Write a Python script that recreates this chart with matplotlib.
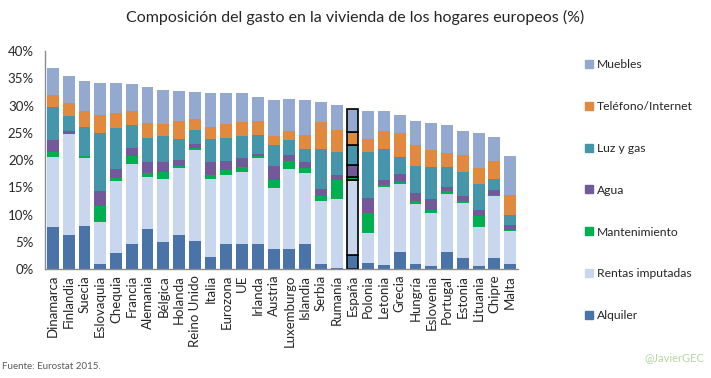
import numpy as np
import matplotlib
matplotlib.use("Agg")
from matplotlib import pyplot as plt
from matplotlib.patches import Patch

plt.rcParams['font.family'] = ['Lato', 'DejaVu Sans']

paises = ["Dinamarca", "Finlandia", "Suecia", "Eslovaquia", "Chequia", "Francia",
          "Alemania", "Bélgica", "Holanda", "Reino Unido", "Italia", "Eurozona", "UE",
          "Irlanda", "Austria", "Luxemburgo", "Islandia", "Serbia", "Rumanía", "España",
          "Polonia", "Letonia", "Grecia", "Hungría", "Eslovenia", "Portugal", "Estonia",
          "Lituania", "Chipre", "Malta"]

alquiler = [7.8, 6.3, 8.0, 1.0, 2.9, 4.7, 7.4, 5.0, 6.2, 5.2, 2.3, 4.7, 4.7, 4.7, 3.7,
            3.7, 4.7, 1.0, 0.2, 2.6, 1.2, 0.8, 3.2, 1.0, 0.6, 3.2, 2.1, 0.6, 2.1, 1.0]
rentas = [12.7, 18.5, 12.4, 7.7, 13.3, 14.6, 9.5, 11.5, 12.3, 16.6, 14.2, 12.6, 13.1, 15.7, 11.2,
          14.7, 12.9, 11.5, 12.7, 13.7, 5.4, 14.3, 12.4, 11.0, 9.7, 10.6, 10.0, 7.1, 11.3, 6.0]
mantenimiento = [1.0, 0.0, 0.4, 2.9, 0.6, 1.5, 0.8, 1.4, 0.5, 0.4, 0.8, 0.9, 0.9, 0.4, 1.5,
                 1.5, 0.9, 0.9, 3.5, 0.7, 3.8, 0.4, 0.4, 0.5, 0.6, 0.5, 0.4, 2.1, 0.3, 0.2]
agua = [2.2, 0.6, 0.0, 2.8, 1.6, 1.4, 1.9, 1.7, 1.0, 0.8, 2.3, 1.7, 1.7, 0.4, 2.5,
        1.0, 1.1, 1.3, 0.9, 2.2, 2.7, 0.8, 1.5, 1.5, 2.0, 0.8, 0.9, 1.1, 0.9, 0.9]
luz_gas = [6.0, 2.7, 5.2, 10.5, 7.5, 4.2, 4.5, 4.8, 3.8, 2.5, 4.2, 4.1, 4.0, 3.4, 3.8,
           2.8, 2.5, 7.4, 4.2, 3.6, 8.4, 5.7, 3.0, 4.9, 5.8, 3.6, 4.4, 4.8, 1.9, 1.9]
telefono = [2.3, 2.4, 3.1, 3.3, 2.8, 2.6, 2.7, 2.2, 3.4, 2.0, 2.2, 2.6, 2.6, 2.5, 1.7,
            1.7, 2.5, 4.9, 4.0, 2.4, 2.3, 3.4, 4.4, 3.9, 3.2, 2.6, 3.2, 2.9, 3.4, 3.7]
muebles = [4.9, 4.9, 5.4, 5.9, 5.4, 4.9, 6.6, 6.2, 5.4, 4.9, 6.3, 5.7, 5.3, 4.4, 6.6,
           5.8, 6.4, 3.6, 4.6, 4.2, 5.3, 3.6, 3.3, 4.3, 4.9, 5.1, 4.3, 6.3, 4.3, 7.0]

series = [
    ("Alquiler", alquiler, "#4A73A8"),
    ("Rentas imputadas", rentas, "#C8D7EE"),
    ("Mantenimiento", mantenimiento, "#00B050"),
    ("Agua", agua, "#725A9A"),
    ("Luz y gas", luz_gas, "#4596AA"),
    ("Teléfono/Internet", telefono, "#E0893F"),
    ("Muebles", muebles, "#94A9D0"),
]

fig = plt.figure(figsize=(7.11, 3.78), dpi=100)
ax = fig.add_axes([0.0633, 0.2876, 0.6653, 0.5774])

x = np.arange(len(paises))
bottom = np.zeros(len(paises))
idx_es = paises.index("España")
for name, vals, col in series:
    vals = np.array(vals)
    bars = ax.bar(x, vals, 0.75, bottom=bottom, color=col, label=name, linewidth=0)
    # España resaltada con borde negro
    bars[idx_es].set_edgecolor("black")
    bars[idx_es].set_linewidth(1.2)
    bottom += vals

ax.set_xlim(-0.5, len(paises) - 0.5)
ax.set_ylim(0, 40)
ax.set_yticks(range(0, 41, 5))
ax.set_yticklabels([f"{v}%" for v in range(0, 41, 5)], fontsize=9.5, color="#262626")
ax.set_xticks(x)
ax.set_xticklabels(paises, rotation=90, fontsize=9.5, color="#262626")
ax.tick_params(axis="x", length=0, pad=4)
ax.tick_params(axis="y", length=0, pad=8)
for s in ["top", "right"]:
    ax.spines[s].set_visible(False)
for s in ["left", "bottom"]:
    ax.spines[s].set_color("#8C8C8C")
    ax.spines[s].set_linewidth(1)

handles = [Patch(color=c, label=n) for n, _, c in series][::-1]
fig.legend(handles=handles, loc="upper left", bbox_to_anchor=(0.808, 0.872),
           frameon=False, fontsize=8.7, handlelength=0.65, handleheight=0.65,
           handletextpad=0.3, labelspacing=2.55, labelcolor="#262626")

fig.text(0.5, 0.955, "Composición del gasto en la vivienda de los hogares europeos (%)",
         ha="center", va="center", fontsize=11.5, color="#262626")
fig.text(0.003, 0.03, "Fuente: Eurostat 2015.", fontsize=7, color="#595959", va="center")
fig.text(0.99, 0.055, "@JavierGEC", fontsize=8, color="#B5D7A0", ha="right", va="center")

fig.savefig("out.png", dpi=100)
